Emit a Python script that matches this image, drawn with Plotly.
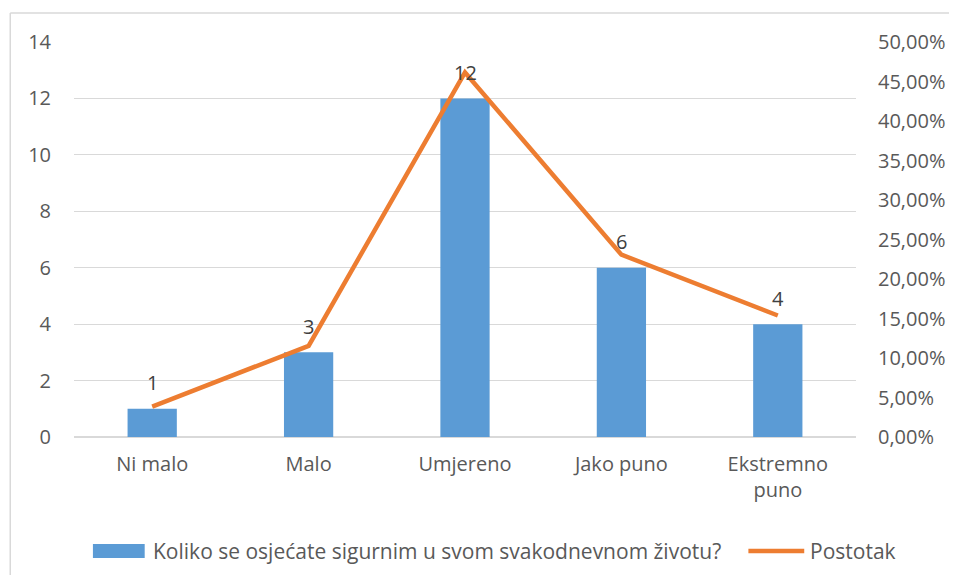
import plotly.graph_objects as go

categories = ["Ni malo", "Malo", "Umjereno", "Jako puno", "Ekstremno<br>puno"]
counts = [1, 3, 12, 6, 4]
percentages = [0.0385, 0.1154, 0.4615, 0.2308, 0.1538]
bar_name = "Koliko se osjećate sigurnim u svom svakodnevnom životu?"
line_name = "Postotak"

FONT = "'Open Sans', sans-serif"
FS = 20
FS_LEG = 21
BLUE = "#5B9BD5"
ORANGE = "#ED7D31"
TICK = "#595959"

fig = go.Figure()
fig.add_trace(go.Bar(x=categories, y=counts, name=bar_name, marker=dict(color=BLUE, line=dict(width=0)),
                     width=0.315, yaxis="y", showlegend=False))
fig.add_trace(go.Scatter(x=categories, y=percentages, name=line_name, mode="lines",
                         line=dict(color=ORANGE, width=4.5), yaxis="y2", showlegend=False))

for c, v in zip(categories, counts):
    fig.add_annotation(x=c, y=v, xref="x", yref="y", text=str(v), showarrow=False,
                       yshift=26, font=dict(family=FONT, size=FS, color="#404040"))

# legend (custom, to mimic the original layout)
fig.add_shape(type="rect", xref="paper", yref="paper", x0=0.0242, x1=0.0904, y0=-0.3063, y1=-0.2709,
              fillcolor=BLUE, line=dict(width=0))
fig.add_annotation(xref="paper", yref="paper", x=0.098, y=-0.2886, xanchor="left", yanchor="middle",
                   text=bar_name, showarrow=False, font=dict(family=FONT, size=FS_LEG, color=TICK))
fig.add_shape(type="line", xref="paper", yref="paper", x0=0.8624, x1=0.9338, y0=-0.2886, y1=-0.2886,
              line=dict(color=ORANGE, width=4.5))
fig.add_annotation(xref="paper", yref="paper", x=0.9389, y=-0.2886, xanchor="left", yanchor="middle",
                   text=line_name, showarrow=False, font=dict(family=FONT, size=FS_LEG, color=TICK))

# outer chart border (top and left edges visible in the original crop)
fig.add_shape(type="line", xref="paper", yref="paper", x0=-0.0815, x1=1.2, y0=1.0734, y1=1.0734,
              line=dict(color="#D9D9D9", width=1.5), layer="below")
fig.add_shape(type="line", xref="paper", yref="paper", x0=-0.0815, x1=-0.0815, y0=-0.5, y1=1.0734,
              line=dict(color="#D9D9D9", width=1.5), layer="below")

fig.update_layout(
    width=949, height=567,
    margin=dict(l=66, r=98, t=34, b=138),
    paper_bgcolor="white", plot_bgcolor="white",
    separators=",.",
    font=dict(family=FONT, size=FS, color=TICK),
    bargap=0.685,
    xaxis=dict(showgrid=False, showline=False, ticks="", ticklabelstandoff=13,
               tickfont=dict(family=FONT, size=FS, color=TICK)),
    yaxis=dict(range=[0, 14], dtick=2, showgrid=True, gridcolor="#D9D9D9", gridwidth=1.3,
               zeroline=True, zerolinecolor="#D9D9D9", zerolinewidth=2,
               ticks="", ticklabelstandoff=22, tickfont=dict(family=FONT, size=FS, color=TICK)),
    yaxis2=dict(range=[0, 0.5], dtick=0.05, tickformat=".2%", overlaying="y", side="right",
                showgrid=False, zeroline=False, ticks="", ticklabelstandoff=21,
                tickfont=dict(family=FONT, size=FS, color=TICK)),
)

fig.write_html("out.html")
